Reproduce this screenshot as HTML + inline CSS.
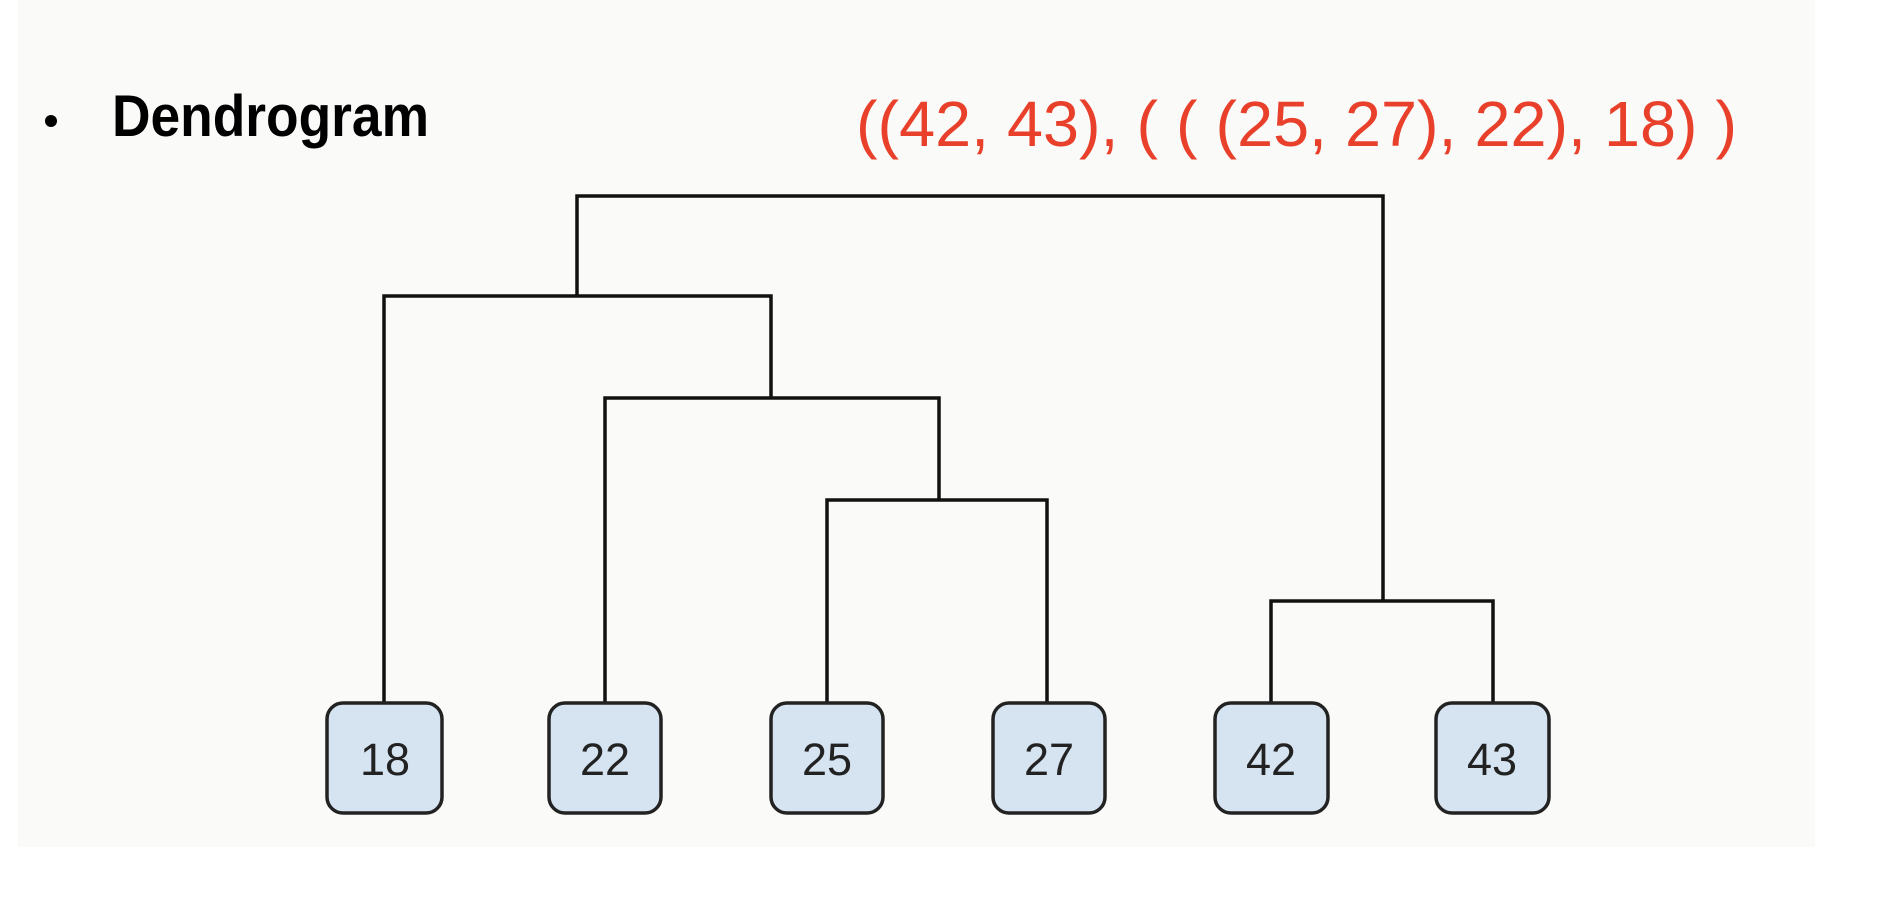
<!DOCTYPE html>
<html><head><style>
html,body{margin:0;padding:0;background:#fff;}
</style></head><body>
<svg width="1885" height="906" xmlns="http://www.w3.org/2000/svg">
<rect x="18" y="0" width="1797" height="847" fill="#fafaf8"/>
<circle cx="51" cy="121" r="6" fill="#000"/>
<text x="112" y="136" font-family="Liberation Sans, sans-serif" font-weight="bold" font-size="58" textLength="317" lengthAdjust="spacingAndGlyphs" fill="#000">Dendrogram</text>
<text x="856" y="146" font-family="Liberation Sans, sans-serif" font-size="64" textLength="881" lengthAdjust="spacingAndGlyphs" fill="#e8402a">((42, 43), ( ( (25, 27), 22), 18) )</text>
<g stroke="#111" stroke-width="3.5" fill="none">
<polyline points="577,296 577,196 1383,196 1383,601"/>
<polyline points="384,703 384,296 771,296 771,398"/>
<polyline points="605,703 605,398 939,398 939,500"/>
<polyline points="827,703 827,500 1047,500 1047,703"/>
<polyline points="1271,703 1271,601 1493,601 1493,703"/>
</g>
<g fill="#d6e3f1" stroke="#222" stroke-width="3.5">
<rect x="327" y="703" width="115" height="110" rx="16"/>
<rect x="549" y="703" width="112" height="110" rx="16"/>
<rect x="771" y="703" width="112" height="110" rx="16"/>
<rect x="993" y="703" width="112" height="110" rx="16"/>
<rect x="1215" y="703" width="113" height="110" rx="16"/>
<rect x="1436" y="703" width="113" height="110" rx="16"/>
</g>
<g font-family="Liberation Sans, sans-serif" font-size="45" fill="#222" text-anchor="middle">
<text x="385" y="775">18</text>
<text x="605" y="775">22</text>
<text x="827" y="775">25</text>
<text x="1049" y="775">27</text>
<text x="1271" y="775">42</text>
<text x="1492" y="775">43</text>
</g>
</svg>
</body></html>
